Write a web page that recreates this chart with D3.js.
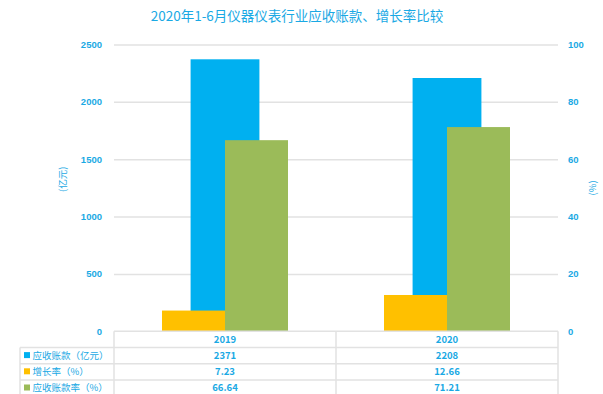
<!DOCTYPE html>
<html>
<head>
<meta charset="utf-8">
<script src="https://cdn.jsdelivr.net/npm/d3@7"></script>
<style>
  body { margin: 0; background: #fff; }
  svg { display: block; font-family: "Noto Sans CJK SC", "Noto Sans", sans-serif; }
  .grid line { stroke: #e2e2e2; stroke-width: 1.5; }
  .grid path { display: none; }
  .axis path, .axis line { display: none; }
  .axis text { fill: #1aa9e4; font-size: 9.5px; font-weight: bold; }
</style>
</head>
<body>
<svg id="chart" width="603" height="394"></svg>
<script>
var years = ['2019', '2020']
var receivables = [2371, 2208]     // 应收账款 (亿元), left axis
var growthRate = [7.23, 12.66]     // 增长率 (%), right axis
var receivableRate = [66.64, 71.21] // 应收账款率 (%), right axis
var leftTicks = [0, 500, 1000, 1500, 2000, 2500]
var rightTicks = [0, 20, 40, 60, 80, 100]
var seriesNames = ['应收账款（亿元）', '增长率（%）', '应收账款率（%）']
var seriesColors = ['#00b0f0', '#ffc000', '#9bbb59']

var textColor = '#1aa9e4'
var svg = d3.select('#chart')
var margin = {top: 44.5, left: 114, right: 45, bottom: 62.7}
var width = 603 - margin.left - margin.right
var height = 394 - margin.top - margin.bottom

var g = svg.append('g').attr('transform', 'translate(' + margin.left + ',' + margin.top + ')')

var x = d3.scaleBand().domain(years).range([0, width])
var yLeft = d3.scaleLinear().domain([0, 2500]).range([height, 0])
var yRight = d3.scaleLinear().domain([0, 100]).range([height, 0])

// secondary-axis bars sit side by side, primary bar is centred and wider
var sub = d3.scaleBand().domain(['growth', 'rate']).range([0, x.bandwidth()])
    .paddingInner(0).paddingOuter(0.762)
var mainWidth = x.bandwidth() * 0.31

// title
svg.append('text')
    .attr('x', 297).attr('y', 21)
    .attr('text-anchor', 'middle')
    .attr('fill', textColor)
    .style('font-size', '13.5px')
    .text('2020年1-6月仪器仪表行业应收账款、增长率比较')

// grid lines
g.append('g')
    .attr('class', 'grid')
    .call(d3.axisLeft(yLeft).tickValues(leftTicks.slice(1)).tickSize(-width).tickFormat(''))

// left axis
g.append('g')
    .attr('class', 'axis')
    .attr('transform', 'translate(-4,0)')
    .call(d3.axisLeft(yLeft).tickValues(leftTicks).tickSize(0).tickPadding(8).tickFormat(d3.format('d')))

// right axis
g.append('g')
    .attr('class', 'axis')
    .attr('transform', 'translate(' + (width + 2) + ',0)')
    .call(d3.axisRight(yRight).tickValues(rightTicks).tickSize(0).tickPadding(8).tickFormat(d3.format('d')))
  .selectAll('text')
    .style('text-anchor', 'start')

// axis titles
svg.append('text')
    .attr('transform', 'translate(66,' + (margin.top + height * 0.47) + ') rotate(-90)')
    .attr('text-anchor', 'middle')
    .attr('fill', textColor)
    .style('font-size', '9.5px')
    .text('(亿元)')
svg.append('text')
    .attr('transform', 'translate(596,' + (margin.top + height * 0.5) + ') rotate(-90)')
    .attr('text-anchor', 'middle')
    .attr('fill', textColor)
    .style('font-size', '9.5px')
    .text('(%)')

// bars: primary first, secondary drawn on top
g.selectAll('.bar-main')
    .data(years)
  .enter().append('rect')
    .attr('class', 'bar-main')
    .attr('x', (d) => x(d) + (x.bandwidth() - mainWidth) / 2)
    .attr('width', mainWidth)
    .attr('y', (d, i) => yLeft(receivables[i]))
    .attr('height', (d, i) => height - yLeft(receivables[i]))
    .attr('fill', seriesColors[0])

g.selectAll('.bar-growth')
    .data(years)
  .enter().append('rect')
    .attr('class', 'bar-growth')
    .attr('x', (d) => x(d) + sub('growth'))
    .attr('width', sub.bandwidth())
    .attr('y', (d, i) => yRight(growthRate[i]))
    .attr('height', (d, i) => height - yRight(growthRate[i]))
    .attr('fill', seriesColors[1])

g.selectAll('.bar-rate')
    .data(years)
  .enter().append('rect')
    .attr('class', 'bar-rate')
    .attr('x', (d) => x(d) + sub('rate'))
    .attr('width', sub.bandwidth())
    .attr('y', (d, i) => yRight(receivableRate[i]))
    .attr('height', (d, i) => height - yRight(receivableRate[i]))
    .attr('fill', seriesColors[2])

// data table under the plot
var rowH = 16.2
var tableLeft = 20 - margin.left
var rows = [receivables, growthRate, receivableRate]
var table = g.append('g').attr('transform', 'translate(0,' + height + ')')
var lineColor = '#e2e2e2'

// horizontal lines
table.append('line')
    .attr('x1', 0).attr('x2', width).attr('y1', 0).attr('y2', 0)
    .attr('stroke', lineColor).attr('stroke-width', 1.5)
for (var r = 1; r <= 4; ++r) {
    table.append('line')
        .attr('x1', tableLeft).attr('x2', width)
        .attr('y1', r * rowH).attr('y2', r * rowH)
        .attr('stroke', lineColor).attr('stroke-width', 1.5)
}
// vertical lines
;[0, x(years[1]), width].forEach(function(xx) {
    table.append('line')
        .attr('x1', xx).attr('x2', xx).attr('y1', 0).attr('y2', rowH * 5)
        .attr('stroke', lineColor).attr('stroke-width', 1.5)
})
table.append('line')
    .attr('x1', tableLeft).attr('x2', tableLeft).attr('y1', rowH).attr('y2', rowH * 5)
    .attr('stroke', lineColor).attr('stroke-width', 1.5)

// header: categories
years.forEach(function(yr) {
    table.append('text')
        .attr('x', x(yr) + x.bandwidth() / 2)
        .attr('y', rowH / 2 + 3.5)
        .attr('text-anchor', 'middle')
        .attr('fill', textColor)
        .style('font-size', '9.5px').style('font-weight', 'bold')
        .text(yr)
})

rows.forEach(function(values, ri) {
    var cy = (ri + 1) * rowH + rowH / 2
    table.append('rect')
        .attr('x', tableLeft + 4).attr('y', cy - 3.5)
        .attr('width', 6).attr('height', 6)
        .attr('fill', seriesColors[ri])
    table.append('text')
        .attr('x', tableLeft + 12.5).attr('y', cy + 3.5)
        .attr('fill', textColor)
        .style('font-size', '9.5px')
        .text(seriesNames[ri])
    values.forEach(function(v, ci) {
        table.append('text')
            .attr('x', x(years[ci]) + x.bandwidth() / 2)
            .attr('y', cy + 3.5)
            .attr('text-anchor', 'middle')
            .attr('fill', textColor)
            .style('font-size', '9.5px').style('font-weight', 'bold')
            .text(v)
    })
})
</script>
</body>
</html>
